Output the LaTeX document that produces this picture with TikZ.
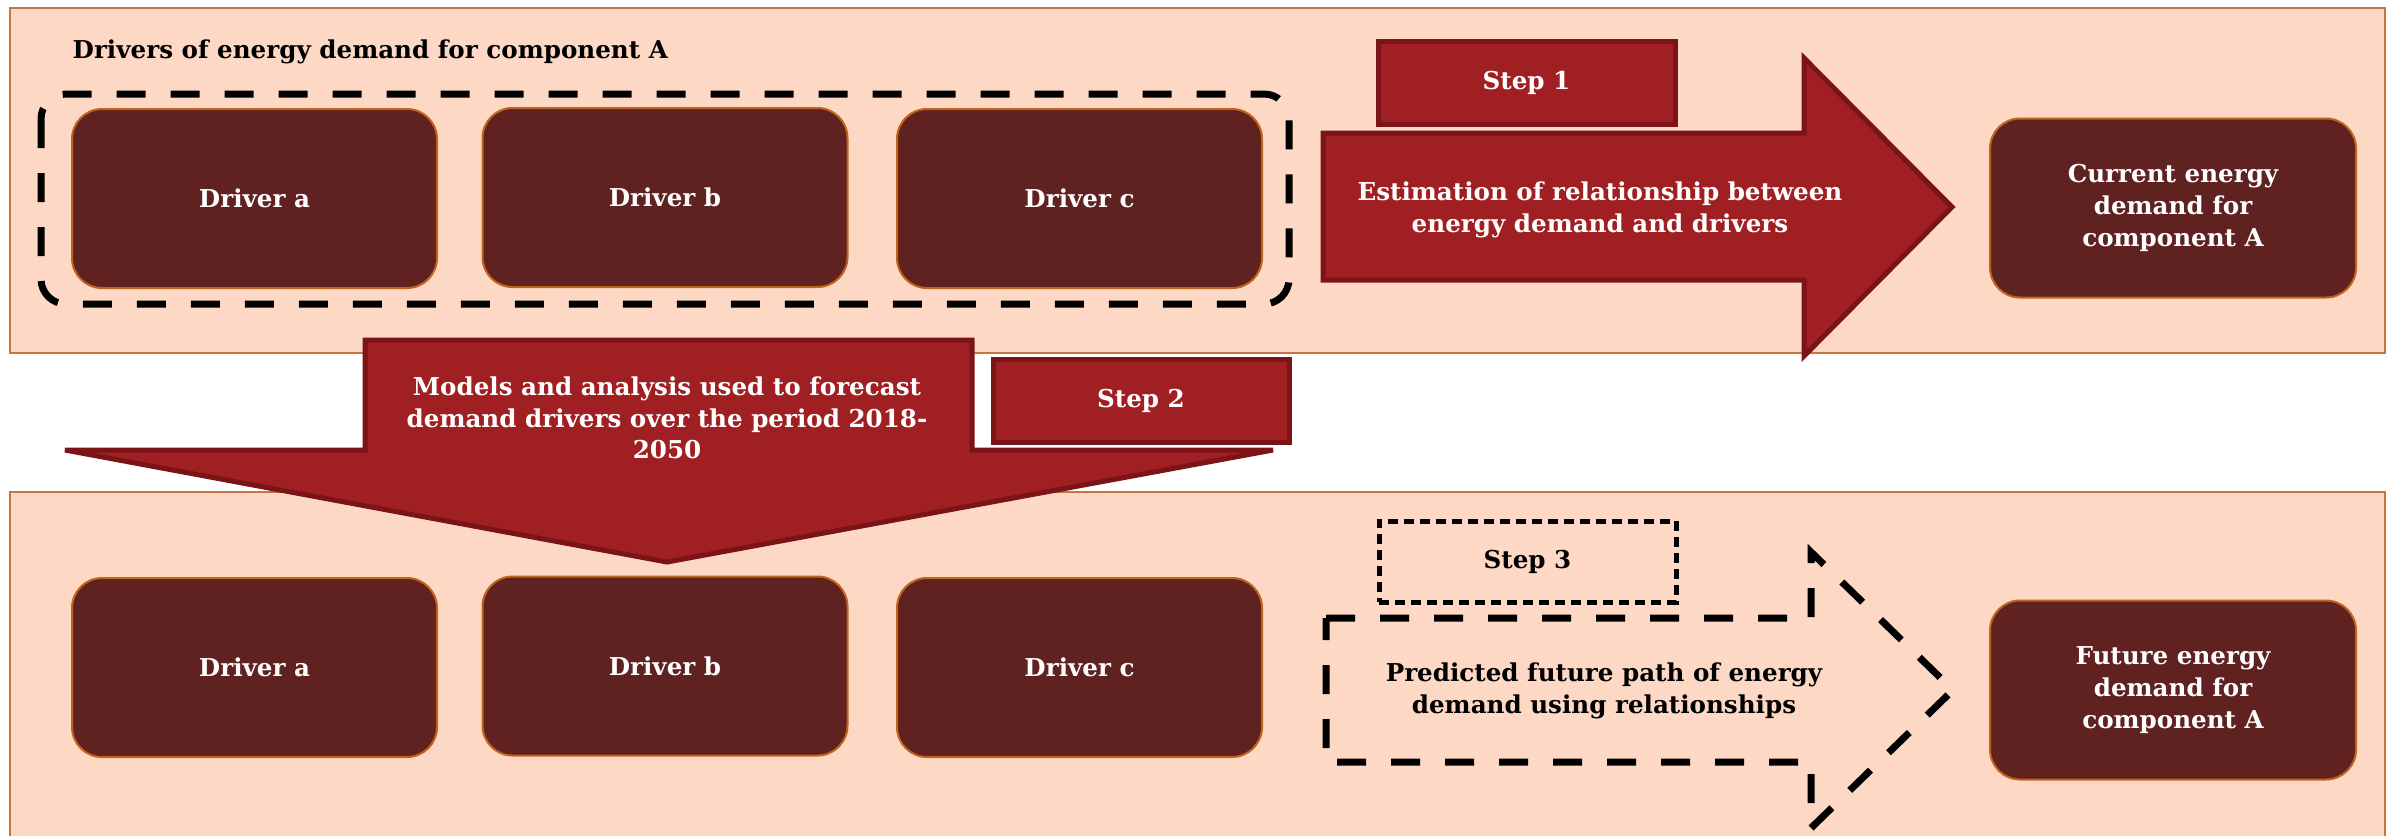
\documentclass[tikz,border=0pt]{standalone}
\usepackage{fontspec}
\setmainfont{DejaVu Serif}
\definecolor{panel}{HTML}{FDD8C4}
\definecolor{panelborder}{HTML}{C5753F}
\definecolor{drv}{HTML}{602121}
\definecolor{drvborder}{HTML}{C0631E}
\definecolor{arr}{HTML}{A01F22}
\definecolor{arrborder}{HTML}{7A1417}
\newcommand{\dfont}{\bfseries\fontsize{7pt}{9pt}\selectfont}
\tikzset{
  panelbox/.style={fill=panel, draw=panelborder, line width=0.15mm},
  drvbox/.style={fill=drv, draw=drvborder, line width=0.2mm, rounded corners=3mm,
    text=white, font=\dfont, align=center, inner sep=0pt,
    minimum width=36.5mm, minimum height=17.9mm},
  stepbox/.style={fill=arr, draw=arrborder, line width=0.5mm, text=white,
    font=\dfont, inner sep=0pt},
  bigarrow/.style={fill=arr, draw=arrborder, line width=0.5mm, line join=miter},
  dashline/.style={draw=black, line width=0.7mm, dash pattern=on 2.9mm off 2.5mm},
  lbl/.style={font=\dfont, align=center, inner sep=0pt}
}
\begin{document}
\begin{tikzpicture}[x=0.1mm,y=-0.1mm]
\useasboundingbox (0,0) rectangle (2397,835);
\clip (0,0) rectangle (2397,835);
\fill[white] (0,0) rectangle (2397,835);
% panels
\path[panelbox] (10,8) rectangle (2385,353);
\path[panelbox] (10,492) rectangle (2385,845);
% top panel
\node[lbl, anchor=west] (title) at (72,52) {Drivers of energy demand for component A};
\draw[dashline, rounded corners=2.5mm] (41,94) rectangle (1289,304);
\node[drvbox] (da1) at (254.5,198.5) {Driver a};
\node[drvbox] (db1) at (665,197.5) {Driver b};
\node[drvbox] (dc1) at (1079.5,198.5) {Driver c};
\node[stepbox, minimum width=29.7mm, minimum height=8.3mm] (s1) at (1526.5,82.5) {Step 1};
\draw[bigarrow] (1323,133) -- (1804,133) -- (1804,58) -- (1952,207) -- (1804,356)
  -- (1804,280) -- (1323,280) -- cycle;
\node[lbl, text=white] (a1t) at (1600,210) {Estimation of relationship between\\energy demand and drivers};
\node[drvbox, minimum width=36.6mm] (cur) at (2173,208) {Current energy\\demand for\\component A};
% down arrow
\draw[bigarrow] (365,340) -- (972,340) -- (972,450) -- (1273,450) -- (667,562)
  -- (65,450) -- (365,450) -- cycle;
\node[lbl, text=white] (a2t) at (667,418) {Models and analysis used to forecast\\demand drivers over the period 2018-\\2050};
\node[stepbox, minimum width=29.6mm, minimum height=8.3mm] (s2) at (1141,400.5) {Step 2};
% bottom panel
\node[drvbox] (da2) at (254.5,667.5) {Driver a};
\node[drvbox] (db2) at (665,666) {Driver b};
\node[drvbox] (dc2) at (1079.5,667.5) {Driver c};
\node[draw, line width=0.5mm, dash pattern=on 1mm off 0.6mm, font=\dfont,
  minimum width=29.7mm, minimum height=8.1mm, inner sep=0pt] (s3) at (1527.5,561.5) {Step 3};
\draw[dashline] (1326,618) -- (1811,618) -- (1811,552) -- (1953,690) -- (1811,828)
  -- (1811,762) -- (1326,762) -- cycle;
\node[lbl] (a3t) at (1604,691) {Predicted future path of energy\\demand using relationships};
\node[drvbox, minimum width=36.6mm] (fut) at (2173,690) {Future energy\\demand for\\component A};
\end{tikzpicture}
\end{document}
